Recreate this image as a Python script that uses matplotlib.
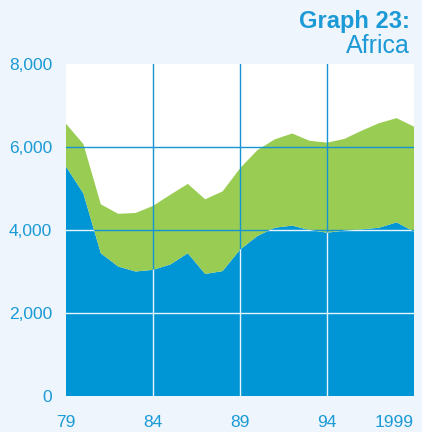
import numpy as np
import matplotlib
matplotlib.use("Agg")
import matplotlib.pyplot as plt

# ── data ────────────────────────────────────────────────────────
years = list(range(1979, 2000))
lower = [5530, 4880, 3440, 3120, 3000, 3040, 3170, 3440, 2940, 3010, 3525,
         3855, 4055, 4105, 4000, 3935, 3985, 4015, 4055, 4185, 3960]
upper = [1030, 1190, 1180, 1270, 1410, 1540, 1680, 1670, 1800, 1920, 1960,
         2070, 2130, 2220, 2150, 2170, 2210, 2380, 2520, 2510, 2530]
xticks = [1979, 1984, 1989, 1994, 1999]
xtick_labels = ["79", "84", "89", "94", "1999"]
yticks = [0, 2000, 4000, 6000, 8000]

BG = "#eef5fc"
BLUE = "#0096d6"
GREEN = "#99cc52"
TXT = "#1b9ad6"
GRID = "#1494d4"

plt.rcParams["font.family"] = ["Liberation Sans", "DejaVu Sans"]

fig = plt.figure(figsize=(4.22, 4.32), dpi=100, facecolor=BG)
ax = fig.add_axes([66 / 422, 1 - 396 / 432, 348 / 422, 332 / 432])
ax.set_facecolor("white")

polys = ax.stackplot(years, lower, upper, colors=[BLUE, GREEN],
                     linewidth=0, zorder=1)

ax.set_xlim(1979, 1999)
ax.set_ylim(0, 8000)

# grid: blue over white/green, white over the blue area
clip_path = polys[0].get_paths()[0]
for yv in yticks[1:-1]:
    ax.axhline(yv, color=GRID, lw=1.0, zorder=2)
    ln = ax.axhline(yv, color="#e8f4fc", lw=1.0, zorder=3)
    ln.set_clip_path(clip_path, polys[0].get_transform())
for xv in xticks[1:-1]:
    ax.axvline(xv, color=GRID, lw=1.0, zorder=2)
    ln = ax.axvline(xv, color="#e8f4fc", lw=1.0, zorder=3)
    ln.set_clip_path(clip_path, polys[0].get_transform())

for s in ax.spines.values():
    s.set_visible(False)

ax.set_yticks(yticks)
ax.set_yticklabels([f"{v:,}" for v in yticks])
ax.set_xticks(xticks)
ax.set_xticklabels(xtick_labels)
ax.tick_params(length=0, labelsize=12.5, labelcolor=TXT)
ax.tick_params(axis="y", pad=10)
ax.tick_params(axis="x", pad=14)
ax.get_xticklabels()[-1].set_horizontalalignment("right")

fig.text(410 / 422, 1 - 28 / 432, "Graph 23:", ha="right", va="baseline",
         fontsize=17, fontweight="bold", color=TXT)
fig.text(410 / 422, 1 - 53 / 432, "Africa", ha="right", va="baseline",
         fontsize=18, color=TXT)

fig.savefig("out.png", dpi=100, facecolor=BG)
